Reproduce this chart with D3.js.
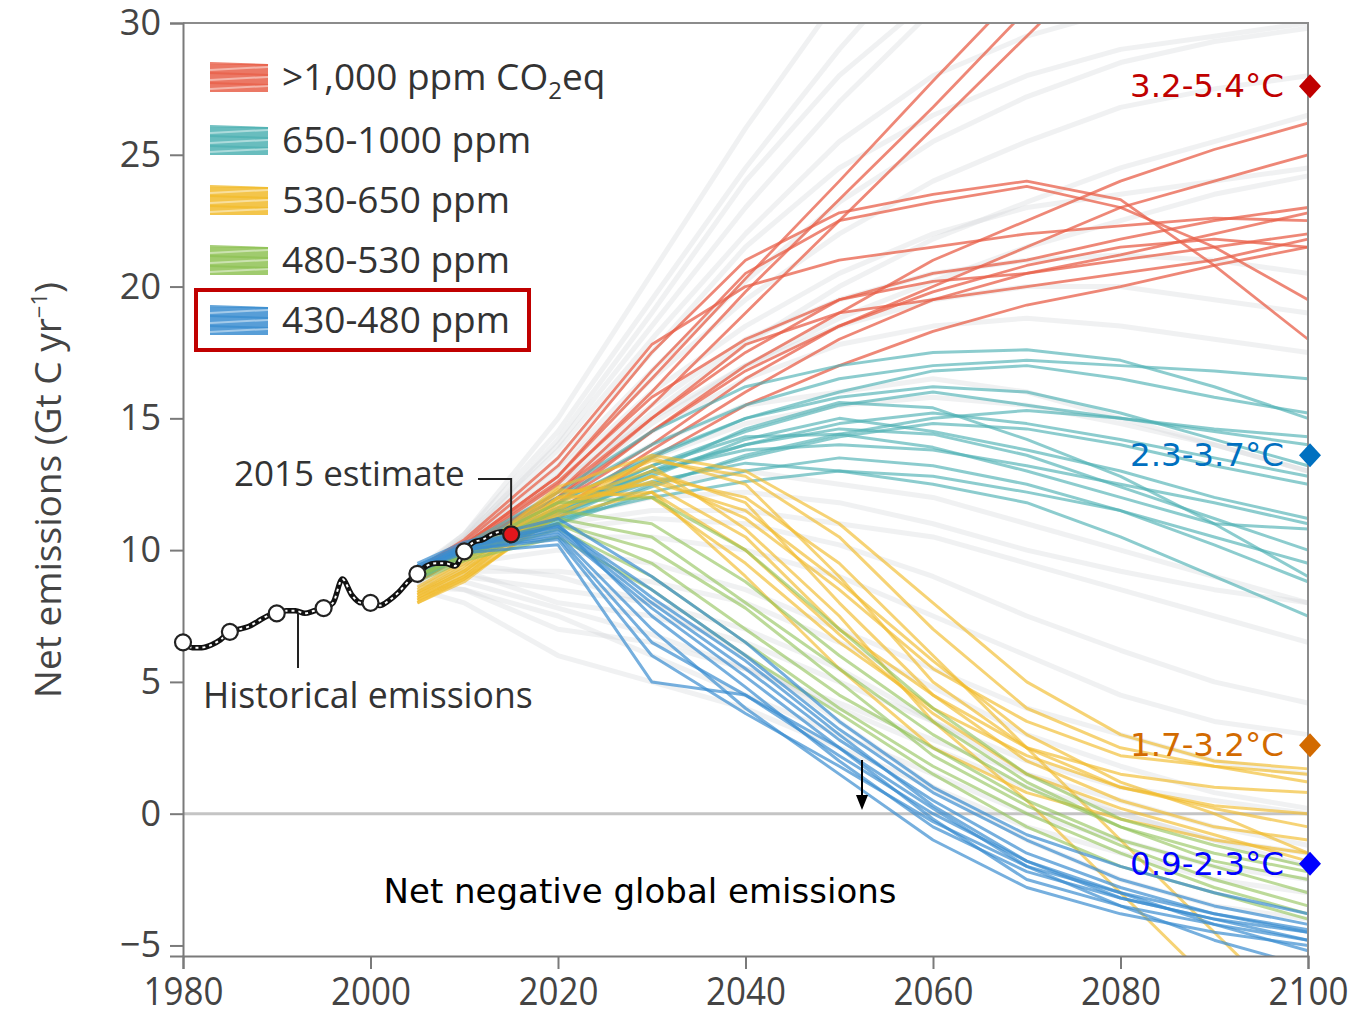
<!DOCTYPE html>
<html>
<head>
<meta charset="utf-8">
<script src="https://cdn.jsdelivr.net/npm/d3@7"></script>
<style>
  body { margin: 0; background: #fff; }
  svg { display: block; }
</style>
</head>
<body>
<svg id="chart" width="1352" height="1016"></svg>
<script>
// ---------- data ----------
var histYears = [1980,1981,1982,1983,1984,1985,1986,1987,1988,1989,1990,1991,1992,1993,1994,1995,1996,1997,1998,1999,
                 2000,2001,2002,2003,2004,2005,2006,2007,2008,2009,2010,2011,2012,2013,2014,2015];
var histValues = [6.5,6.3,6.3,6.4,6.6,6.9,7.0,7.1,7.3,7.5,7.6,7.7,7.7,7.6,7.7,7.8,8.0,8.9,8.3,8.0,
                  8.0,7.9,8.1,8.4,8.8,9.1,9.4,9.5,9.5,9.4,9.95,10.3,10.4,10.6,10.7,10.6];
var markerYears = [1980,1985,1990,1995,2000,2005,2010,2015];

var scenarioYears = [2005,2010,2020,2030,2040,2050,2060,2070,2080,2090,2100];

var grayRuns = [
  [8.5,8.0,6.0,5.0,4.0,2.5,1.0,-0.5,-1.5,-2.5,-3.0],
  [8.8,8.5,7.0,6.5,5.5,4.0,2.5,1.0,0.0,-1.0,-1.5],
  [9.0,9.2,8.0,7.5,6.5,5.0,3.5,2.0,1.0,0.5,0.0],
  [9.2,10.5,14.0,18.5,23.0,27.0,30.5,33,35,37,39],
  [9.3,10.6,14.5,19.5,24.5,29.0,33,36,38,40,42],
  [9.1,10.3,13.5,17.5,21.5,24.5,26.5,28.0,29.0,29.5,30],
  [9.0,10.2,13.0,16.5,19.5,22.0,24.0,25.5,26.8,27.5,28.0],
  [9.2,10.4,13.8,18.0,22.0,25.5,28.0,29.5,30.5,31,31.5],
  [9.0,10.0,12.5,15.0,17.0,18.5,19.5,20.0,20.0,19.5,19.0],
  [9.0,10.0,12.0,14.0,15.5,16.0,16.5,16.0,15.0,14.0,13.0],
  [9.0,9.8,11.0,11.5,11.5,11.0,10.5,9.5,8.5,7.5,6.5],
  [9.0,9.8,10.5,10.5,10.0,9.0,7.5,6.0,4.5,3.5,3.0],
  [8.8,9.0,8.5,8.0,7.0,5.5,3.5,1.5,0.0,-1.0,-2.0],
  [8.6,8.5,7.5,6.0,4.5,3.0,1.5,0.0,-1.0,-2.0,-2.5],
  [9.0,9.5,9.0,8.0,6.0,3.5,1.0,-1.0,-2.5,-3.5,-4.0],
  [9.1,10.2,12.8,16.0,18.5,20.5,22.0,23.0,23.5,24.0,24.5],
  [9.1,10.1,12.6,15.5,18.0,19.5,20.5,21.0,21.2,21.0,20.5],
  [9.0,9.9,11.5,12.5,13.0,12.5,12.0,11.0,10.0,9.0,8.0],
  [8.9,9.5,10.0,9.5,8.5,7.0,5.5,4.0,3.0,2.0,1.5],
  [9.2,10.6,15.0,20.5,26.0,31.0,35,38,40,42,44],
  [9.2,10.4,14.2,19.0,24.0,28.0,31.0,33,35,36,37],
  [9.0,10.1,12.2,14.8,17.0,18.8,20.2,21.5,22.5,23.5,24.2],
  [8.7,8.8,7.8,6.8,5.5,4.2,2.8,1.5,0.5,-0.5,-1.2],
  [9.0,9.9,11.2,12.0,12.2,11.8,11.0,10.0,9.2,8.5,8.0],
  [9.1,10.3,13.2,16.8,20.2,23.2,25.5,27.2,28.5,29.3,29.8],
  [9.0,10.1,12.4,15.2,17.8,20.0,21.8,23.2,24.5,25.5,26.5],
  [9.0,10.0,12.0,14.5,16.5,17.8,18.5,18.8,18.5,18.0,17.5],
  [8.9,9.7,10.8,11.2,11.0,10.2,9.0,7.5,6.2,5.0,4.2],
  [8.8,9.2,9.2,8.8,8.0,6.5,4.8,3.0,1.8,0.8,0.2],
  [9.0,9.9,11.8,13.5,14.8,15.5,15.8,15.5,14.8,14.0,13.0]
];
var redRuns = [
  [9.2,10.2,12.8,16.5,20.3,24.0,27.8,31.5,35,38,41],
  [9.1,10.1,12.5,16.0,19.8,23.3,26.8,30.5,34,37,40],
  [9.0,10.0,12.2,15.5,19.0,22.5,26.0,29.5,33,36,39],
  [9.2,10.3,13.2,17.5,21.0,22.8,23.5,24.0,23.3,20.8,18.0],
  [9.1,10.2,12.8,16.8,20.5,22.5,23.2,23.8,23.0,21.5,19.5],
  [9.0,10.1,12.0,14.5,17.0,19.0,21.0,22.5,24.0,25.2,26.2],
  [9.0,10.0,11.8,14.0,16.5,18.5,20.0,21.5,23.0,24.0,25.0],
  [9.1,10.1,12.2,15.0,17.5,19.5,20.5,21.0,21.8,22.5,23.0],
  [8.9,9.9,11.5,13.8,16.0,18.0,19.5,20.5,21.0,21.5,22.0],
  [9.0,10.0,11.8,14.5,16.8,18.5,19.8,20.8,21.5,21.8,21.5],
  [9.2,10.2,12.6,15.8,18.0,19.5,20.2,20.5,21.2,22.0,22.8],
  [8.8,9.8,11.2,13.5,15.5,17.0,18.3,19.3,20.0,20.8,21.5],
  [9.0,10.0,12.0,15.0,17.8,19.0,19.5,20.0,20.5,21.0,21.8],
  [9.3,10.4,13.5,17.8,20.0,21.0,21.5,22.0,22.3,22.6,22.5]
];
var tealRuns = [
  [9.2,10.1,12.0,14.0,15.5,16.5,17.0,17.2,17.0,16.8,16.5],
  [9.1,10.0,11.8,13.5,15.0,16.0,16.8,17.0,16.5,15.8,15.2],
  [9.0,9.9,11.5,13.2,14.5,15.5,16.0,15.5,15.0,14.5,14.0],
  [9.0,10.0,11.6,13.0,14.0,14.8,15.2,14.8,14.2,13.5,12.8],
  [8.9,9.8,11.2,12.8,14.2,15.0,14.5,13.8,13.0,12.0,11.2],
  [9.1,10.0,11.5,13.0,13.8,14.0,13.8,13.2,12.5,11.8,11.0],
  [9.0,9.9,11.0,12.5,13.5,14.3,14.8,14.6,14.0,13.2,12.5],
  [8.9,9.8,11.0,12.2,13.0,13.5,13.2,12.5,11.5,10.2,8.8],
  [9.0,10.0,11.4,12.6,13.3,13.0,12.5,11.8,10.5,9.0,7.5],
  [9.1,10.1,11.8,13.6,15.0,15.8,16.2,16.0,15.2,14.2,13.2],
  [9.0,9.9,11.3,12.9,14.0,14.6,14.4,13.6,12.4,11.2,10.0],
  [8.9,9.8,11.1,12.4,13.6,14.4,15.0,15.3,15.0,14.6,14.3],
  [9.1,10.0,11.6,13.2,14.3,14.4,13.9,13.0,12.0,11.0,10.8],
  [9.0,10.0,11.2,12.0,12.6,13.0,12.8,12.2,11.5,10.5,9.5],
  [9.2,10.2,12.2,14.5,16.2,17.0,17.5,17.6,17.2,16.2,15.0],
  [9.0,9.9,11.4,13.0,14.6,15.6,15.4,14.2,12.8,11.0,9.0]
];
var yellowRuns = [
  [8.0,8.8,11.5,13.5,12.5,9.0,5.0,2.5,1.0,0.3,0.0],
  [8.2,9.0,11.8,13.0,11.8,8.0,4.5,2.0,0.5,-0.5,-1.0],
  [8.3,9.2,12.0,13.2,10.8,7.5,3.5,0.5,-3.0,-6.5,-9.0],
  [8.1,9.0,11.6,12.8,12.0,9.5,6.0,2.5,-1.0,-4.5,-8.0],
  [8.4,9.3,12.2,12.5,10.5,7.0,4.5,2.5,1.5,1.0,0.8],
  [8.0,8.9,11.4,12.8,11.2,8.5,5.5,3.5,2.2,1.8,1.5],
  [8.2,9.1,11.9,13.4,12.8,10.5,7.0,4.0,2.5,1.8,1.2],
  [8.5,9.5,12.3,12.0,9.5,6.5,4.0,2.2,1.0,0.2,-0.5],
  [8.3,9.2,11.7,12.6,11.5,8.8,5.8,3.0,1.2,0.0,-1.5],
  [8.1,8.9,11.3,12.2,10.0,6.8,3.8,1.5,0.2,-0.8,-1.8],
  [8.6,9.6,12.4,13.6,13.0,11.0,8.0,5.0,3.0,2.0,1.7],
  [8.4,9.4,12.0,12.2,9.0,5.5,2.5,0.8,-0.2,-1.0,-1.5]
];
var greenRuns = [
  [9.0,9.8,11.0,9.5,7.0,4.5,2.5,0.5,-1.0,-2.0,-3.0],
  [9.1,9.9,11.2,10.5,8.0,5.5,3.0,1.0,-0.5,-1.8,-2.5],
  [8.9,9.7,10.8,9.0,6.5,4.0,1.8,0.0,-1.5,-2.8,-3.8],
  [9.0,9.9,11.5,11.0,8.8,6.0,3.5,1.2,-0.5,-1.5,-2.2],
  [8.8,9.6,10.5,8.5,6.0,3.8,1.5,-0.5,-2.0,-3.0,-4.0],
  [9.2,10.0,11.8,12.0,10.0,7.0,4.0,1.5,-0.2,-1.2,-2.0],
  [9.0,9.8,11.0,10.0,7.8,5.0,2.2,0.3,-1.2,-2.5,-3.5]
];
var blueRuns = [
  [9.3,10.1,10.8,8.0,5.5,2.8,0.5,-1.5,-2.8,-3.8,-4.5],
  [9.4,10.2,11.0,7.5,4.8,2.0,-0.5,-2.2,-3.2,-4.0,-4.8],
  [9.2,10.0,10.5,6.5,4.5,2.2,0.0,-1.8,-3.0,-4.2,-5.2],
  [9.3,10.1,10.9,8.5,6.0,3.2,0.8,-1.0,-2.5,-3.5,-4.2],
  [9.5,10.3,11.2,9.0,6.5,3.5,1.0,-0.8,-2.0,-3.0,-3.8],
  [9.2,9.9,10.2,5.0,4.5,2.5,0.2,-2.0,-3.5,-4.8,-5.8],
  [9.3,10.0,10.6,7.0,4.0,1.5,-1.0,-2.8,-3.8,-4.5,-5.0],
  [9.4,10.2,10.9,8.2,5.8,3.0,0.3,-1.8,-3.2,-4.0,-4.5],
  [9.3,10.1,10.7,7.8,5.2,2.5,-0.2,-2.5,-3.5,-4.2,-4.8],
  [9.2,10.0,10.4,6.0,3.8,1.8,-0.3,-2.0,-3.0,-3.8,-4.4]
];

var legendLabels = [">1,000 ppm CO", "650-1000 ppm", "530-650 ppm", "480-530 ppm", "430-480 ppm"];
var warmingLabels = ["3.2-5.4°C", "2.3-3.7°C", "1.7-3.2°C", "0.9-2.3°C"];
var warmingLevels = [27.6, 13.6, 2.6, -1.9];
var yTicks = [-5, 0, 5, 10, 15, 20, 25, 30];
var xTicks = [1980, 2000, 2020, 2040, 2060, 2080, 2100];

// ---------- setup ----------
var svg = d3.select("#chart");
var plotLeft = 183, plotRight = 1308, plotTop = 23, plotBottom = 956;

var x = d3.scaleLinear().domain([1980, 2100]).range([plotLeft, plotRight]);
var y = d3.scaleLinear().domain([-5.4, 30]).range([plotBottom, plotTop]);

var groupColors = ["#e8604a", "#4fb1b3", "#f1bb2c", "#8fc255", "#3b8dd0"];
var warmingColors = ["#c00000", "#0070c0", "#d26a00", "#0000ff"];

var defs = svg.append("defs");
defs.append("clipPath").attr("id", "plotClip")
  .append("rect").attr("x", plotLeft).attr("y", plotTop)
  .attr("width", plotRight - plotLeft).attr("height", plotBottom - plotTop);
defs.append("filter").attr("id", "soft")
  .append("feGaussianBlur").attr("stdDeviation", 0.7);

var line = d3.line()
  .x(function(d, i){ return x(scenarioYears[i]); })
  .y(function(d){ return y(d); });

// zero line
svg.append("line")
  .attr("x1", plotLeft).attr("x2", plotRight)
  .attr("y1", y(0)).attr("y2", y(0))
  .attr("stroke", "#c4c4c4").attr("stroke-width", 3);

// scenario lines
var plot = svg.append("g").attr("clip-path", "url(#plotClip)");
var runs = plot.append("g").attr("filter", "url(#soft)");

function drawRuns(data, colour, width, opacity){
  runs.append("g").selectAll("path")
    .data(data)
    .enter().append("path")
    .attr("d", line)
    .attr("fill", "none")
    .attr("stroke", colour)
    .attr("stroke-width", width)
    .attr("stroke-opacity", opacity)
    .attr("stroke-linejoin", "round");
}
drawRuns(grayRuns, "#d3d7da", 5, 0.35);
drawRuns(redRuns, groupColors[0], 2.8, 0.75);
drawRuns(tealRuns, groupColors[1], 3, 0.65);
drawRuns(yellowRuns, groupColors[2], 3, 0.65);
drawRuns(greenRuns, groupColors[3], 3, 0.6);
drawRuns(blueRuns, groupColors[4], 3, 0.7);

// frame
svg.append("path")
  .attr("d", "M" + plotLeft + "," + plotTop + "H" + plotRight + "V" + plotBottom)
  .attr("fill", "none").attr("stroke", "#8c8c8c").attr("stroke-width", 2);

// axes
var yAxis = svg.append("g").attr("transform", "translate(" + plotLeft + ",0)")
  .call(d3.axisLeft(y).tickValues(yTicks).tickSize(13).tickPadding(9)
        .tickFormat(function(d){ return d < 0 ? "\u2212" + Math.abs(d) : d; }));
yAxis.select(".domain").attr("stroke", "#7a7a7a").attr("stroke-width", 2);
yAxis.selectAll(".tick line").attr("stroke", "#7a7a7a").attr("stroke-width", 2);
yAxis.selectAll(".tick text")
  .attr("fill", "#444").style("font-family", "'Open Sans', sans-serif").style("font-size", "36px");

var xAxis = svg.append("g").attr("transform", "translate(0," + plotBottom + ")")
  .call(d3.axisBottom(x).tickValues(xTicks).tickSize(13).tickPadding(9).tickFormat(d3.format("d")));
xAxis.select(".domain").attr("stroke", "#7a7a7a").attr("stroke-width", 2);
xAxis.selectAll(".tick line").attr("stroke", "#7a7a7a").attr("stroke-width", 2);
xAxis.selectAll(".tick text")
  .attr("fill", "#444")
  .attr("textLength", 80).attr("lengthAdjust", "spacingAndGlyphs")
  .style("font-family", "'Open Sans', sans-serif")
  .style("font-size", "38px");

// y axis title
var yTitle = svg.append("text")
  .attr("transform", "translate(61,490) rotate(-90)")
  .attr("text-anchor", "middle")
  .attr("fill", "#444")
  .style("font-family", "'Open Sans', sans-serif")
  .style("font-size", "37px");
yTitle.append("tspan").text("Net emissions (Gt C yr");
yTitle.append("tspan").attr("dy", -14).style("font-size", "22px").text("\u22121");
yTitle.append("tspan").attr("dy", 14).text(")");

// historical emissions
var histData = histYears.map(function(yr, i){ return [yr, histValues[i]]; });
var histLine = d3.line().curve(d3.curveMonotoneX)
  .x(function(d){ return x(d[0]); }).y(function(d){ return y(d[1]); });
svg.append("path").datum(histData).attr("d", histLine)
  .attr("fill", "none").attr("stroke", "#111").attr("stroke-width", 5.5);
svg.append("path").datum(histData).attr("d", histLine)
  .attr("fill", "none").attr("stroke", "#fff").attr("stroke-width", 2)
  .attr("stroke-dasharray", "3,4");

svg.append("g").selectAll("circle")
  .data(markerYears)
  .enter().append("circle")
  .attr("cx", function(d){ return x(d); })
  .attr("cy", function(d){ return y(histValues[histYears.indexOf(d)]); })
  .attr("r", 8)
  .attr("fill", function(d){ return d === 2015 ? "#e3161c" : "#fff"; })
  .attr("stroke", "#222").attr("stroke-width", 2.2);

// annotations
var annoFont = "'Open Sans', sans-serif";
svg.append("text").attr("x", 234).attr("y", 486)
  .attr("fill", "#333").style("font-family", annoFont).style("font-size", "35px")
  .text("2015 estimate");
svg.append("path")
  .attr("d", "M478,479H" + x(2015) + "V" + (y(10.6) - 9))
  .attr("fill", "none").attr("stroke", "#222").attr("stroke-width", 2);

svg.append("text").attr("x", 203).attr("y", 708)
  .attr("fill", "#333").style("font-family", annoFont).style("font-size", "35.6px")
  .text("Historical emissions");
svg.append("line").attr("x1", 298).attr("x2", 298)
  .attr("y1", y(7.7) + 2).attr("y2", 668)
  .attr("stroke", "#222").attr("stroke-width", 2);

svg.append("text").attr("x", 640).attr("y", 903)
  .attr("text-anchor", "middle")
  .attr("fill", "#000").style("font-family", "'DejaVu Sans', sans-serif").style("font-size", "34px")
  .text("Net negative global emissions");

// arrow to zero line
svg.append("line").attr("x1", 862).attr("x2", 862).attr("y1", 760).attr("y2", 796)
  .attr("stroke", "#000").attr("stroke-width", 2);
svg.append("path")
  .attr("d", "M856,795 L868,795 L862,810 Z").attr("fill", "#000");

// legend
var legend = svg.append("g");
var rowY = [77, 140, 200, 260, 320];
var swatchOffsets = [-13, -8, -3, 2, 7, 11];
legendLabels.forEach(function(label, i){
  var g = legend.append("g").attr("transform", "translate(0," + rowY[i] + ")");
  g.append("rect").attr("x", 210).attr("y", -13).attr("width", 58).attr("height", 28)
    .attr("fill", groupColors[i]).attr("opacity", 0.85);
  swatchOffsets.forEach(function(o, k){
    g.append("line").attr("x1", 210).attr("x2", 268)
      .attr("y1", o + (k % 2 ? 1 : -1)).attr("y2", o - (k % 2 ? 2 : -1))
      .attr("stroke", k % 2 ? "#fff" : groupColors[i])
      .attr("stroke-opacity", k % 2 ? 0.45 : 0.8).attr("stroke-width", 2);
  });
  var t = g.append("text").attr("x", 282).attr("y", 13)
    .attr("fill", "#333").style("font-family", annoFont).style("font-size", "37px");
  t.append("tspan").text(label);
  if (i === 0) {
    t.append("tspan").attr("dy", 9).style("font-size", "24px").text("2");
    t.append("tspan").attr("dy", -9).text("eq");
  }
});
legend.append("rect").attr("x", 196).attr("y", 290).attr("width", 333).attr("height", 60)
  .attr("fill", "none").attr("stroke", "#c00000").attr("stroke-width", 4);

// warming range labels
var warm = svg.append("g");
warmingLabels.forEach(function(label, i){
  var yy = y(warmingLevels[i]);
  warm.append("text").attr("x", 1284).attr("y", yy + 11)
    .attr("text-anchor", "end").attr("fill", warmingColors[i])
    .style("font-family", "'DejaVu Sans', sans-serif").style("font-size", "32.5px")
    .text(label);
  warm.append("path")
    .attr("d", "M1310," + (yy - 12) + "L1321," + yy + "L1310," + (yy + 12) + "L1299," + yy + "Z")
    .attr("fill", warmingColors[i]);
});
</script>
</body>
</html>
